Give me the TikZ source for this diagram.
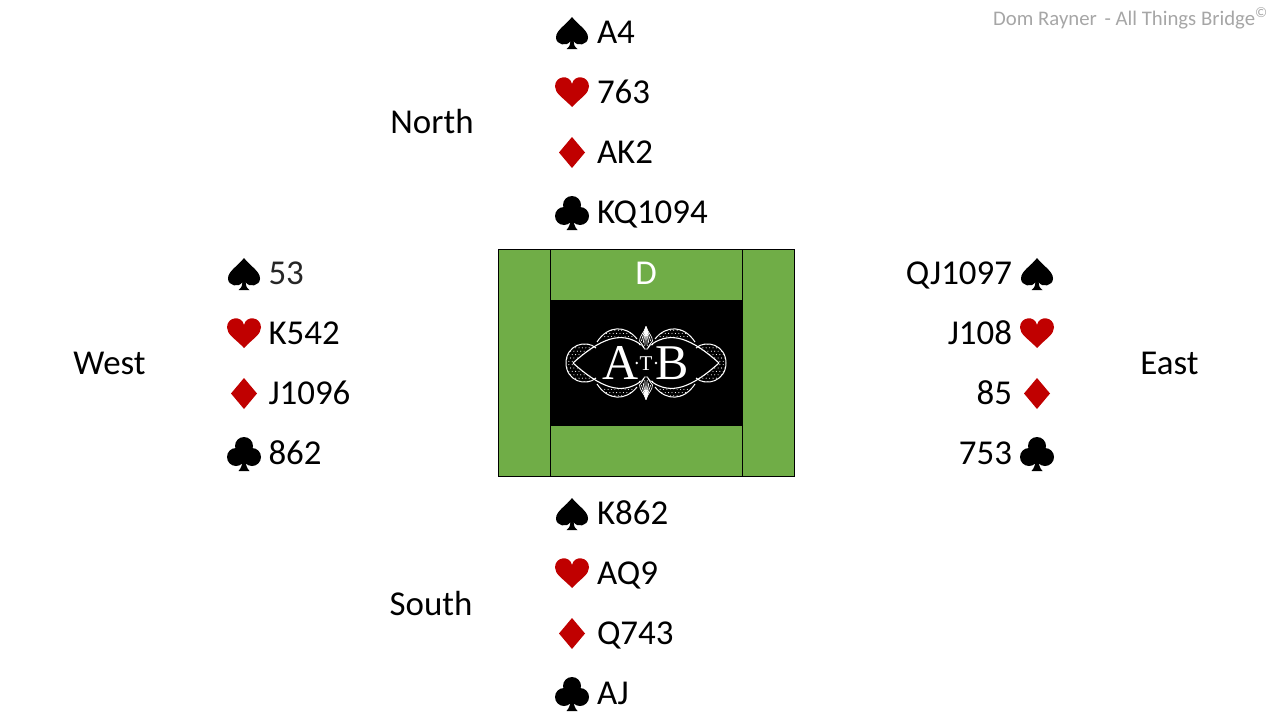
\documentclass[tikz,border=0pt]{standalone}
\usepackage{fontspec}
\setmainfont{Carlito}
\newfontfamily\logofont{Liberation Serif}
\definecolor{felt}{HTML}{70AD47}
\definecolor{suitred}{HTML}{C00000}
\definecolor{mark}{HTML}{A6A6A6}
\definecolor{softblack}{HTML}{262626}
\tikzset{
  base/.style={inner sep=0pt,outer sep=0pt,font=\fontsize{34.9}{40}\selectfont},
  hand/.style={base,anchor=base west},
  handr/.style={base,anchor=base east},
  seat/.style={base,anchor=base},
  felted/.style={fill=felt,draw=black,line width=1pt},
  spadeshape/.pic={\fill (0,-16) .. controls (-6,-8) and (-16,-3) .. (-16,4.5) .. controls (-16,12) and (-5,14) .. (-1.5,8) .. controls (-1.5,11) and (-2.5,14) .. (-5.5,16) -- (5.5,16) .. controls (2.5,14) and (1.5,11) .. (1.5,8) .. controls (5,14) and (16,12) .. (16,4.5) .. controls (16,-3) and (6,-8) .. (0,-16) -- cycle;},
  heartshape/.pic={\fill[suitred] (0,14.5) .. controls (-9,5) and (-17,1) .. (-17,-6) .. controls (-17,-17) and (-2,-18.5) .. (0,-8.5) .. controls (2,-18.5) and (17,-17) .. (17,-6) .. controls (17,1) and (9,5) .. (0,14.5) -- cycle;},
  diamondshape/.pic={\fill[suitred] (0,-15.5) -- (13,0) -- (0,15.5) -- (-13,0) -- cycle;},
  clubshape/.pic={\fill (0,-8) circle[radius=9] (-8,3) circle[radius=9] (8,3) circle[radius=9];
     \fill (-3,-3) rectangle (3,6);
     \fill (-1.5,4) .. controls (-1.5,10) and (-2.5,14) .. (-5.5,17) -- (5.5,17) .. controls (2.5,14) and (1.5,10) .. (1.5,4) -- cycle;},
  quarter/.pic={
     \begin{scope}
       \clip (9,-24) .. controls (20,-38) and (38,-38) .. (49,-21) .. controls (38,-28) and (22,-28) .. (9,-24) -- cycle;
       \foreach \i in {0,...,11}{\foreach \j in {0,...,3}{\fill[white] (9+\i*3.4+\j*1.7,-36+\j*3.2) circle[radius=.55];}}
     \end{scope}
     \begin{scope}
       \clip (50,-15) .. controls (60,-24) and (80,-18) .. (80,0) -- (73,0) .. controls (66,-6) and (58,-11) .. (50,-15) -- cycle;
       \foreach \i in {0,...,9}{\foreach \j in {0,...,6}{\fill[white] (50+\i*3.4+\j*1.7,-22+\j*3.4) circle[radius=.55];}}
     \end{scope}
     \draw[white,line width=1.1pt] (6,-19) .. controls (25,-32) and (45,-25) .. (73,0);
     \draw[white,line width=1pt] (9,-24) .. controls (20,-38) and (38,-38) .. (49,-21);
     \draw[white,line width=1pt] (50,-15) .. controls (60,-24) and (80,-18) .. (80,0);
     \draw[white,line width=.7pt] (0,-36.5) .. controls (2,-30) and (6.5,-27) .. (6.5,-22) .. controls (5,-20) and (3,-18) .. (1.5,-14) -- (0,-14);
     \draw[white,line width=.7pt] (0,-36.5) -- (1.2,-17) (0,-36.5) -- (2.8,-20) (0,-36.5) -- (4.6,-22);
     \draw[white,line width=1pt] (7,-18.5) .. controls (5,-19) and (3,-18) .. (2,-15);
  },
}
\begin{document}
\begin{tikzpicture}[x=1pt,y=-1pt]
\useasboundingbox (0,0) rectangle (1280,720);
% table
\fill[felt] (550.5,249.5) rectangle (742.5,476);
\draw[black,line width=1pt] (550.5,249.5) -- (742.5,249.5) (550.5,476) -- (742.5,476);
\path[felted] (498.5,249.5) rectangle (550.5,476);
\path[felted] (742.5,249.5) rectangle (794.5,476);
\fill[black] (550.5,300) rectangle (742.5,426);
\node[seat,text=white] (dealer) at (646,284) {D};
% logo
\begin{scope}[shift={(646,363)}]
  \pic[transform shape] {quarter};
  \begin{scope}[xscale=-1]\pic[transform shape] {quarter};\end{scope}
  \begin{scope}[yscale=-1]\pic[transform shape] {quarter};\end{scope}
  \begin{scope}[xscale=-1,yscale=-1]\pic[transform shape] {quarter};\end{scope}
  \fill[white] (-9.3,0) circle[radius=1.3] (10,0) circle[radius=1.3];
\end{scope}
\node[inner sep=0pt,anchor=base,text=white,font=\logofont\fontsize{50}{50}\selectfont] (logoa) at (620.5,379) {A};
\node[inner sep=0pt,anchor=base,text=white,font=\logofont\fontsize{21}{21}\selectfont] (logot) at (646,370) {T};
\node[inner sep=0pt,anchor=base,text=white,font=\logofont\fontsize{50}{50}\selectfont] (logob) at (672,379) {B};
% seats
\node[seat] (north) at (432,133) {North};
\node[seat] (south) at (431,615) {South};
\node[seat] (west) at (109.5,374) {West};
\node[seat] (east) at (1169.5,374) {East};
% north
\pic at (572,33) {spadeshape};
\pic at (572,92.5) {heartshape};
\pic at (572,152.5) {diamondshape};
\pic at (572,213) {clubshape};
\node[hand] (n1) at (597,43.5) {A4};
\node[hand] (n2) at (597,103.5) {763};
\node[hand] (n3) at (597,163.5) {AK2};
\node[hand] (n4) at (597,223.5) {KQ1094};
% south
\pic at (572,514) {spadeshape};
\pic at (572,573.5) {heartshape};
\pic at (572,633.5) {diamondshape};
\pic at (572,694) {clubshape};
\node[hand] (s1) at (597,524.5) {K862};
\node[hand] (s2) at (597,584.5) {AQ9};
\node[hand] (s3) at (597,644.5) {Q743};
\node[hand] (s4) at (597,704.5) {AJ};
% west
\pic at (244,274) {spadeshape};
\pic at (244,333.5) {heartshape};
\pic at (244,393.5) {diamondshape};
\pic at (244,454) {clubshape};
\node[hand,text=softblack] (w1) at (268.5,284.5) {53};
\node[hand] (w2) at (268.5,344.5) {K542};
\node[hand] (w3) at (268.5,404.5) {J1096};
\node[hand] (w4) at (268.5,464.5) {862};
% east
\pic at (1037,274) {spadeshape};
\pic at (1037,333.5) {heartshape};
\pic at (1037,393.5) {diamondshape};
\pic at (1037,454) {clubshape};
\node[handr] (e1) at (1012,284.5) {QJ1097};
\node[handr] (e2) at (1012,344.5) {J108};
\node[handr] (e3) at (1012,404.5) {85};
\node[handr] (e4) at (1012,464.5) {753};
% credit
\node[inner sep=0pt,anchor=base east,text=mark,font=\fontsize{20.75}{25}\selectfont] (credit) at (1268,25.5) {Dom Rayner\hspace{3pt} - All Things Bridge\textsuperscript{©}};
\end{tikzpicture}
\end{document}
